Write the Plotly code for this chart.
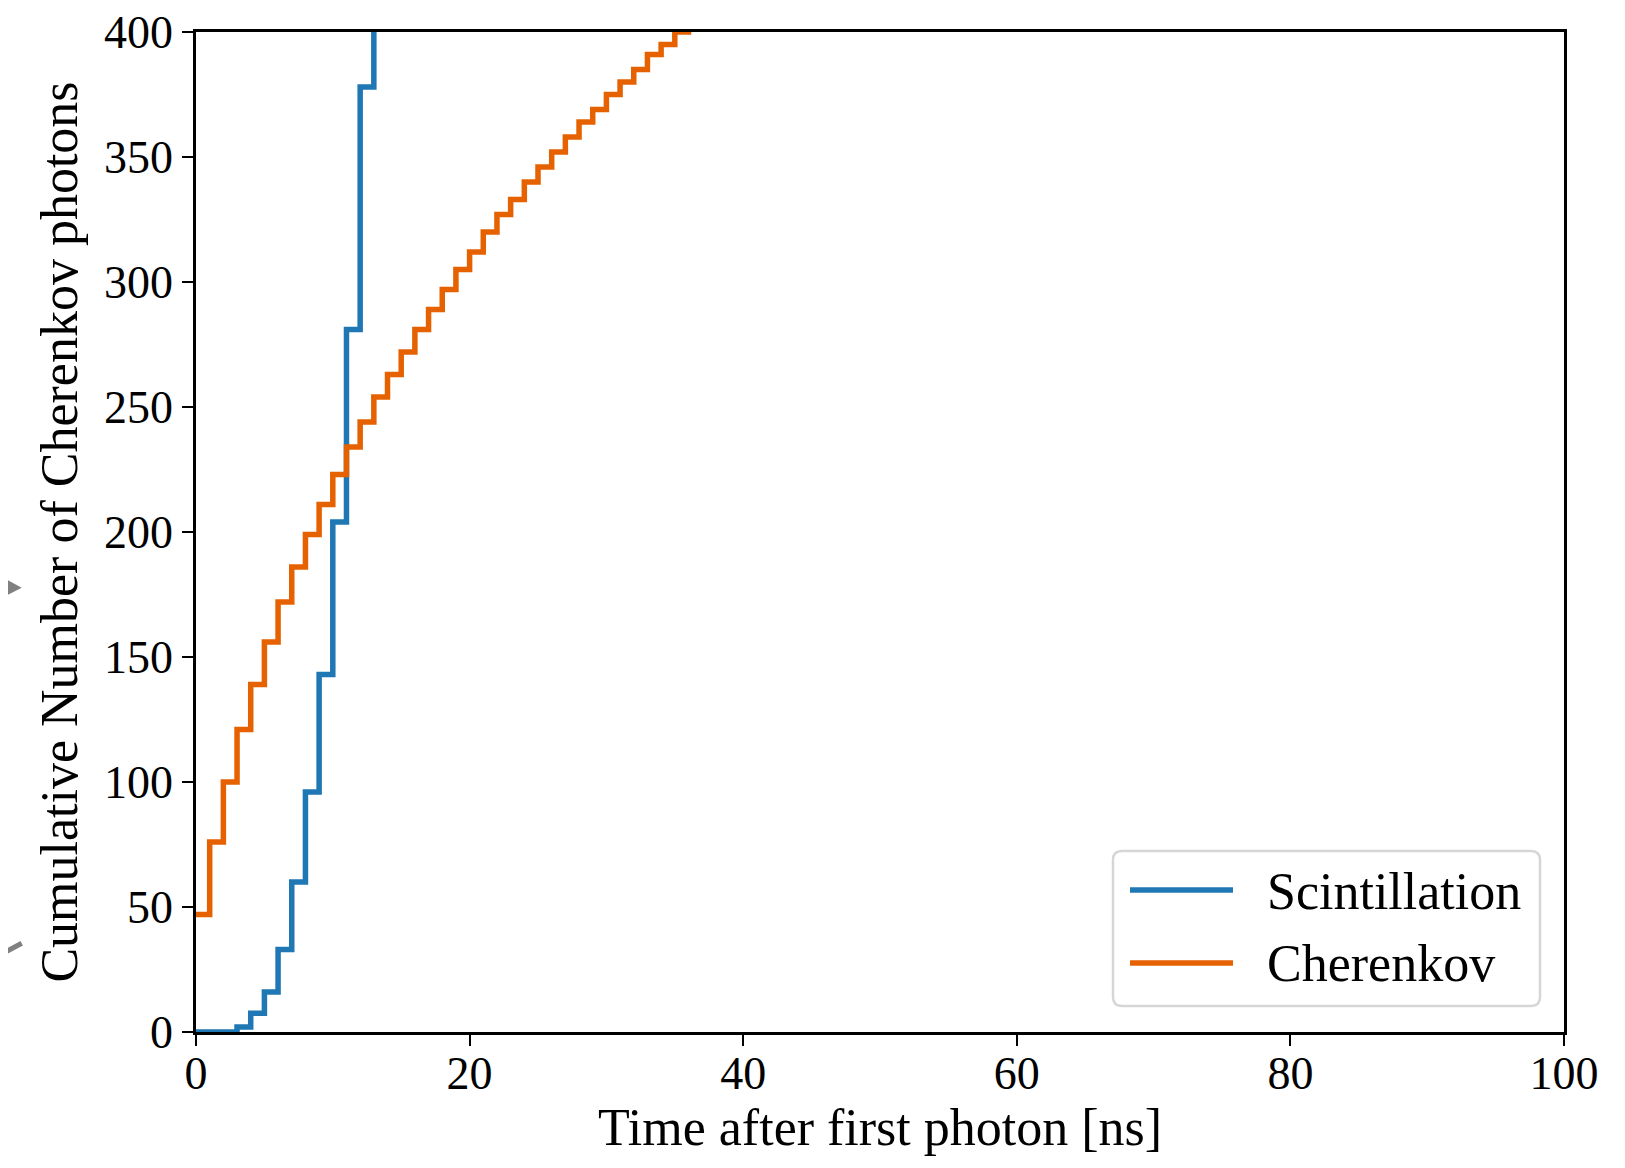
import plotly.graph_objects as go

# Bin edges (ns) and cumulative counts per 1-ns bin
scint_t = [0, 1, 2, 3, 4, 5, 6, 7, 8, 9, 10, 11, 12, 13]
scint_n = [0, 0, 0, 2, 7.5, 16, 33, 60, 96, 143, 204, 281, 378, 470]

cher_t = list(range(0, 37))
cher_n = [47, 76, 100, 121, 139, 156, 172, 186, 199, 211, 223, 234, 244, 254,
          263, 272, 281, 289, 297, 305, 312, 320, 327, 333, 340, 346, 352, 358,
          364, 369, 375, 380, 385, 391, 395, 400, 406]

series_names = ["Scintillation", "Cherenkov"]
series_colors = ["#1f77b4", "#e66100"]

x_ticks = [0, 20, 40, 60, 80, 100]
y_ticks = [0, 50, 100, 150, 200, 250, 300, 350, 400]

W, H = 1625, 1168
OFF = 8  # page body margin
PL, PT, PW, PH = 196, 32, 1368, 1000  # plot area in page pixels
L, T = PL - OFF, PT - OFF
R, B = W - L - PW, H - T - PH
FONT = "Liberation Serif"

fig = go.Figure()
for t, n, name, col in [(scint_t, scint_n, series_names[0], series_colors[0]),
                        (cher_t, cher_n, series_names[1], series_colors[1])]:
    fig.add_trace(go.Scatter(x=t, y=n, mode="lines", line_shape="hv", name=name,
                             line=dict(color=col, width=5.5), showlegend=False))

def px(x):
    return (x - PL) / PW
def py(y):
    return (PT + PH - y) / PH

shapes = [
    dict(type="path", xref="paper", yref="paper",
         path=f"M {px(0)},{py(576)} L {px(21.7)},{py(587.7)} L {px(0)},{py(599)} Z",
         fillcolor="#808080", line=dict(width=0)),
    dict(type="line", xref="paper", yref="paper",
         x0=px(0), y0=py(955), x1=px(21.7), y1=py(943.3),
         line=dict(color="#808080", width=5)),
]

# legend box (rounded)
bx0, bx1, by0, by1, rr = 1113, 1540, 851, 1006, 9
path = (f"M {px(bx0+rr)},{py(by0)} L {px(bx1-rr)},{py(by0)} "
        f"Q {px(bx1)},{py(by0)} {px(bx1)},{py(by0+rr)} L {px(bx1)},{py(by1-rr)} "
        f"Q {px(bx1)},{py(by1)} {px(bx1-rr)},{py(by1)} L {px(bx0+rr)},{py(by1)} "
        f"Q {px(bx0)},{py(by1)} {px(bx0)},{py(by1-rr)} L {px(bx0)},{py(by0+rr)} "
        f"Q {px(bx0)},{py(by0)} {px(bx0+rr)},{py(by0)} Z")
shapes.append(dict(type="path", xref="paper", yref="paper", path=path,
                   fillcolor="rgba(255,255,255,0.8)", line=dict(color="#d6d6d6", width=2.5)))
annotations = []
for i, (name, col) in enumerate(zip(series_names, series_colors)):
    yy = 890 + i * 73
    shapes.append(dict(type="line", xref="paper", yref="paper",
                       x0=px(1130), x1=px(1233), y0=py(yy), y1=py(yy),
                       line=dict(color=col, width=5.5)))
    annotations.append(dict(xref="paper", yref="paper", x=px(1265), y=py(yy + 1),
                            xanchor="left", yanchor="middle", showarrow=False,
                            text=name, font=dict(family=FONT, size=52, color="black")))

fig.update_layout(
    width=W, height=H,
    margin=dict(l=L, r=R, t=T, b=B, autoexpand=False),
    paper_bgcolor="white", plot_bgcolor="white",
    font=dict(family=FONT, size=46, color="black"),
    showlegend=False,
    shapes=shapes, annotations=annotations,
    xaxis=dict(range=[0, 100], tickvals=x_ticks, ticktext=[str(v) for v in x_ticks],
               showgrid=False, zeroline=False, showline=True, linecolor="black",
               linewidth=2.5, mirror=True, ticks="outside", ticklen=11, tickwidth=2,
               tickcolor="black", ticklabelstandoff=-12, ticklabeloverflow="allow",
               automargin=False,
               title=dict(text="Time after first photon [ns]", standoff=10,
                          font=dict(family=FONT, size=52))),
    yaxis=dict(range=[0, 400], tickvals=y_ticks, ticktext=[str(v) for v in y_ticks],
               showgrid=False, zeroline=False, showline=True, linecolor="black",
               linewidth=2.5, mirror=True, ticks="outside", ticklen=11, tickwidth=2,
               tickcolor="black", ticklabeloverflow="allow", automargin=False,
               title=dict(text="Cumulative Number of Cherenkov photons", standoff=10,
                          font=dict(family=FONT, size=52))),
)

fig.write_html("out.html")
